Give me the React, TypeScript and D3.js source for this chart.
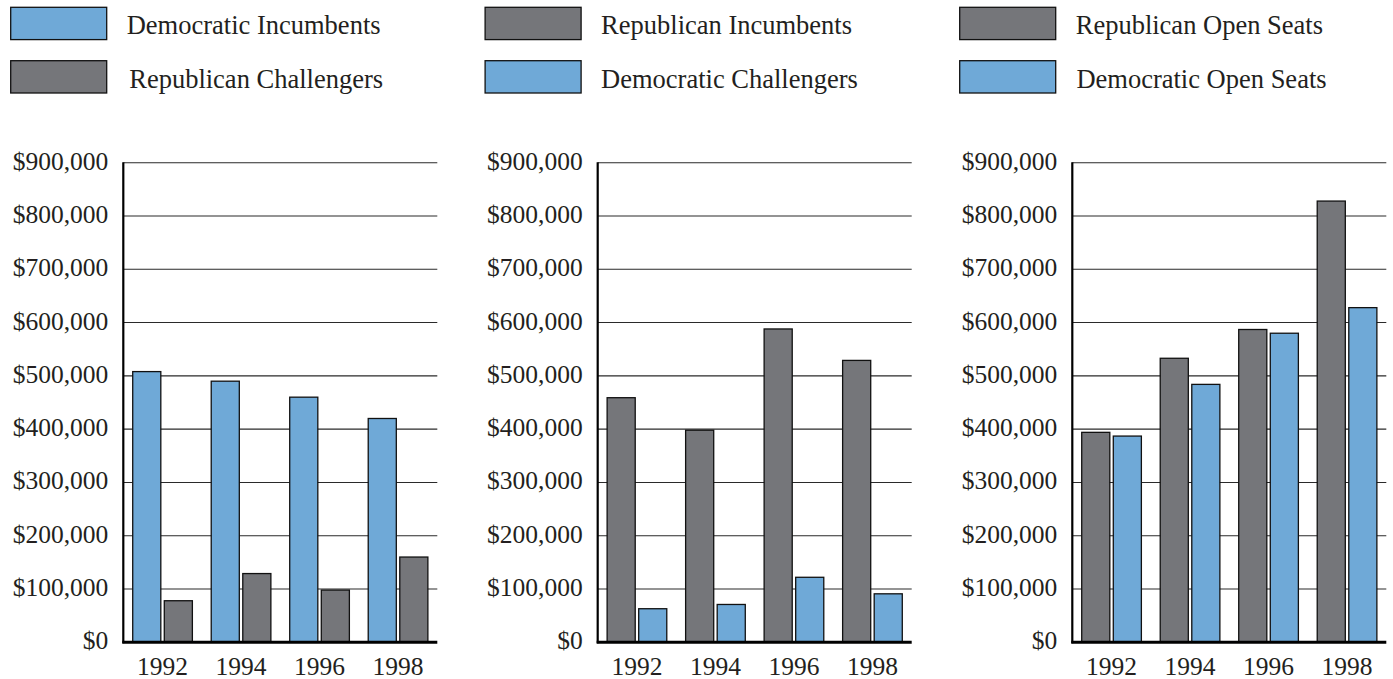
import React from "react";
import * as d3 from "d3";

const years = ["1992", "1994", "1996", "1998"];
const yTicks = [0, 100000, 200000, 300000, 400000, 500000, 600000, 700000, 800000, 900000];

const demIncumbents = [508000, 490000, 460000, 420000];
const repChallengers = [78000, 129000, 98000, 160000];
const repIncumbents = [459000, 398000, 588000, 529000];
const demChallengers = [63000, 71000, 122000, 91000];
const repOpenSeats = [394000, 533000, 587000, 828000];
const demOpenSeats = [387000, 484000, 580000, 628000];

const BLUE = "#6fa9d7";
const GRAY = "#75767a";

type Series = { name: string; values: number[]; color: string; textDx: number };
const panels: Series[][] = [
  [
    { name: "Democratic Incumbents", values: demIncumbents, color: BLUE, textDx: 0 },
    { name: "Republican Challengers", values: repChallengers, color: GRAY, textDx: 2.5 },
  ],
  [
    { name: "Republican Incumbents", values: repIncumbents, color: GRAY, textDx: 0 },
    { name: "Democratic Challengers", values: demChallengers, color: BLUE, textDx: 0 },
  ],
  [
    { name: "Republican Open Seats", values: repOpenSeats, color: GRAY, textDx: 0 },
    { name: "Democratic Open Seats", values: demOpenSeats, color: BLUE, textDx: 0.7 },
  ],
];

const FONT = "'Liberation Serif', 'Times New Roman', serif";
const FS = 25.5;
const LFS = 26.5;

const Panel: React.FC<{ series: Series[]; x0: number }> = ({ series, x0 }) => {
  const width = 314;
  const top = 162.7;
  const bottom = 642.3;
  const y = d3.scaleLinear().domain([0, 900000]).range([bottom, top]);
  const xg = d3.scaleBand<string>().domain(years).range([0, width]).paddingInner(0.24).paddingOuter(0.12);
  const xs = d3.scaleBand<string>().domain(series.map((s) => s.name)).range([0, xg.bandwidth()]).paddingInner(0.11);
  const fmt = (v: number) => "$" + d3.format(",")(v);
  const legendX = x0 - 112.6;
  return (
    <g>
      {series.map((s, i) => (
        <g key={s.name} transform={`translate(${legendX},${7.3 + i * 53.4})`}>
          <rect x={0} y={0} width={96} height={32.3} fill={s.color} stroke="#111" strokeWidth={1.3} />
          <text x={116 + s.textDx} y={27} fontFamily={FONT} fontSize={LFS} fill="#231f20">
            {s.name}
          </text>
        </g>
      ))}
      <g transform={`translate(${x0},0)`}>
        {yTicks.map((t) => (
          <g key={t}>
            {t > 0 && <line x1={0} x2={width} y1={y(t)} y2={y(t)} stroke="#2a2a2a" strokeWidth={1.1} />}
            <text x={-15} y={y(t) + 7} textAnchor="end" fontFamily={FONT} fontSize={FS} fill="#231f20">
              {fmt(t)}
            </text>
          </g>
        ))}
        {years.map((yr, i) => (
          <g key={yr} transform={`translate(${xg(yr)},0)`}>
            {series.map((s) => (
              <rect
                key={s.name}
                x={xs(s.name)}
                y={y(s.values[i])}
                width={xs.bandwidth()}
                height={y(0) - y(s.values[i])}
                fill={s.color}
                stroke="#111"
                strokeWidth={1.3}
              />
            ))}
            <text x={xg.bandwidth() / 2} y={674.5} textAnchor="middle" fontFamily={FONT} fontSize={FS} fill="#231f20">
              {yr}
            </text>
          </g>
        ))}
        <line x1={0} x2={0} y1={top - 0.5} y2={bottom + 1} stroke="#000" strokeWidth={2.2} />
        <line x1={-1} x2={width} y1={bottom} y2={bottom} stroke="#000" strokeWidth={3} />
      </g>
    </g>
  );
};

export default function App() {
  const axisX = [123.3, 597.7, 1072.3];
  return (
    <svg
      width={1393}
      height={679}
      viewBox="0 0 1393 679"
      style={{ position: "absolute", left: 0, top: 0, background: "#fff" }}
    >
      <rect width={1393} height={679} fill="#fff" />
      {panels.map((p, i) => (
        <Panel key={i} series={p} x0={axisX[i]} />
      ))}
    </svg>
  );
}
